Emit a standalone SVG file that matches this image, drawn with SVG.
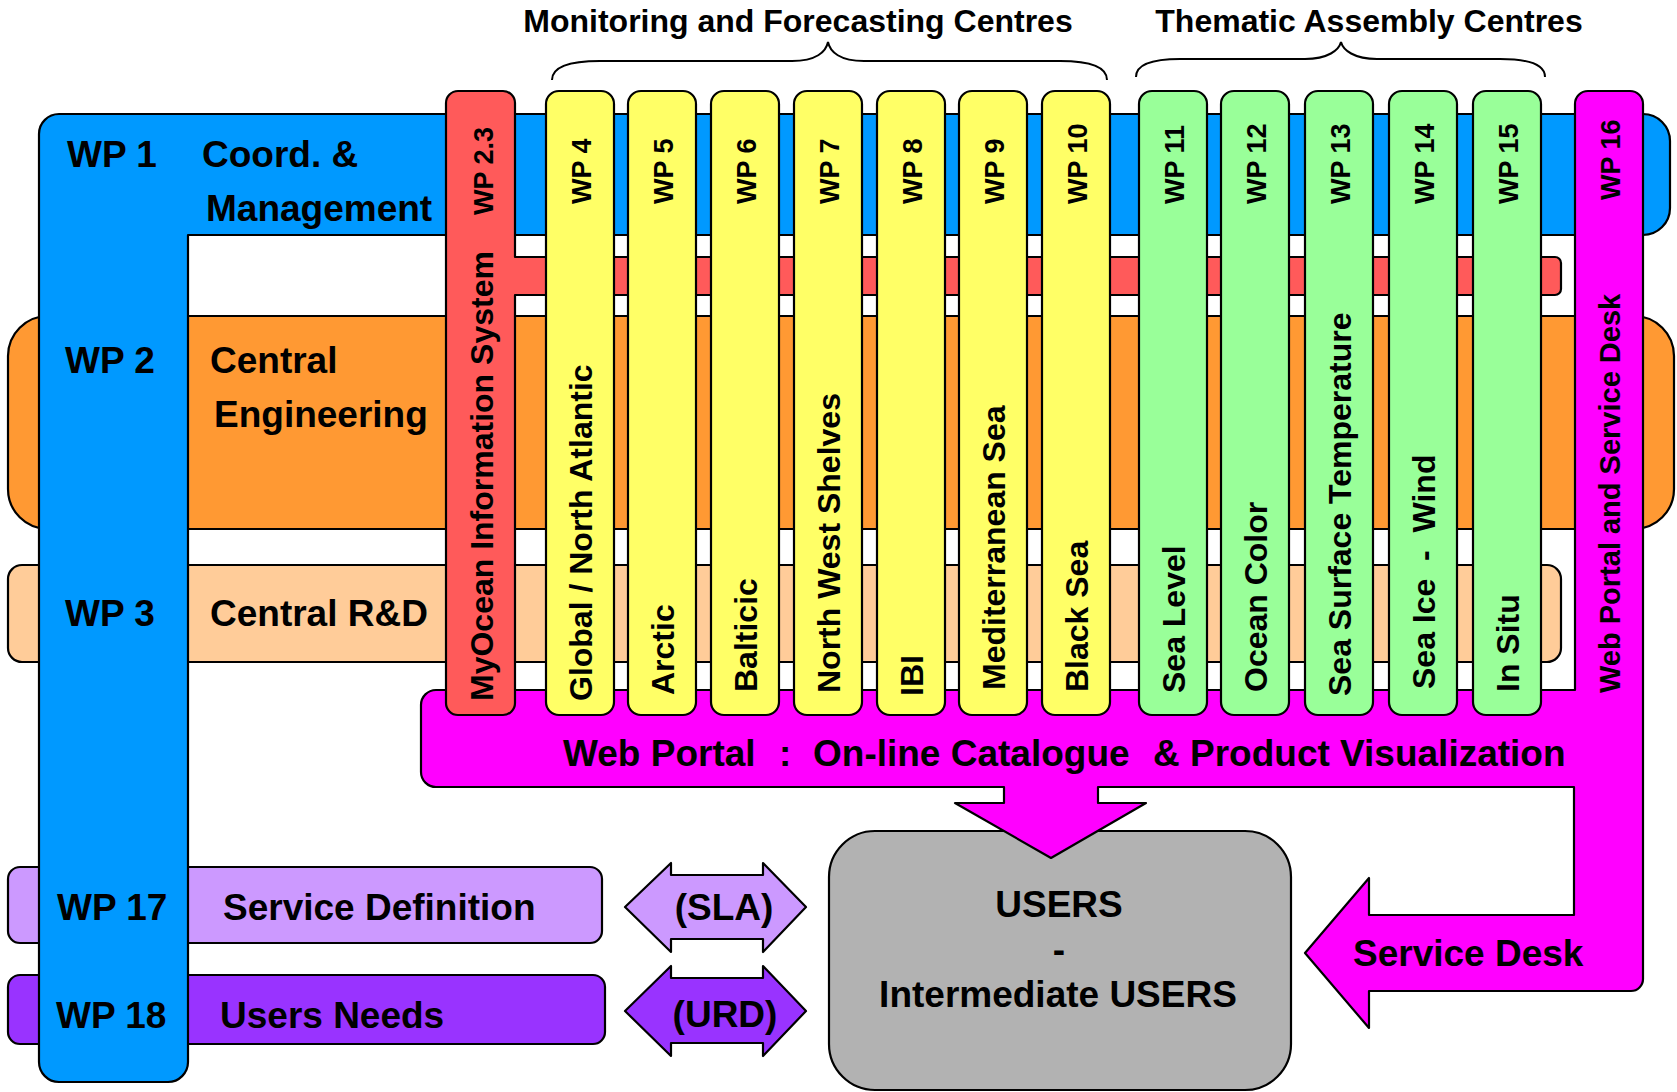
<svg xmlns="http://www.w3.org/2000/svg" width="1677" height="1092" viewBox="0 0 1677 1092">
  <style>
    .ln { stroke:#000; stroke-width:2.2; stroke-linejoin:round; }
    .br { fill:none; stroke:#000; stroke-width:2; }
    .t { font-family:"Liberation Sans", Arial, sans-serif; font-weight:bold; fill:#000; }
    .h { font-size:32px; text-anchor:middle; }
    .big { font-size:37px; }
    .mid { text-anchor:middle; }
    .wp { font-size:27px; }
    .lg { font-size:32px; }
    .blue { fill:#0099FF; }
    .orange { fill:#FF9933; }
    .peach { fill:#FFCC99; }
    .red { fill:#FF5A5A; }
    .yellow { fill:#FFFF66; }
    .green { fill:#99FF99; }
    .magenta { fill:#FF00FF; }
    .gray { fill:#B2B2B2; }
    .lilac { fill:#CC99FF; }
    .purple { fill:#9933FF; }
  </style>
  <rect width="1677" height="1092" fill="#FFFFFF"/>

  <!-- group titles and braces -->
  <g id="titles">
    <text class="t h" x="798" y="32">Monitoring and Forecasting Centres</text>
    <text class="t h" x="1369" y="32">Thematic Assembly Centres</text>
    <path class="br" d="M552,80 C552,67 570,61 600,61 H792 C816,61 826,52 828,42 C830,52 840,61 864,61 H1060 C1090,61 1107,67 1107,80"/>
    <path class="br" d="M1136,77 C1136,64 1152,59 1180,59 H1305 C1328,59 1339,50 1341,42 C1343,50 1354,59 1377,59 H1500 C1528,59 1545,64 1545,77"/>
  </g>

  <!-- horizontal bands -->
  <g id="wp2">
    <rect class="orange ln" x="8" y="316" width="1666" height="213" rx="40"/>
  </g>
  <g id="wp3">
    <rect class="peach ln" x="8" y="565" width="1553" height="97" rx="14"/>
  </g>
  <g id="wp17">
    <rect class="lilac ln" x="8" y="867" width="594" height="76" rx="12"/>
  </g>
  <g id="wp18">
    <rect class="purple ln" x="8" y="975" width="597" height="69" rx="12"/>
  </g>

  <!-- WP1: management band and column -->
  <g id="wp1">
    <path class="blue ln" d="M59,114 H1643 A27,27 0 0 1 1670,141 V208 A27,27 0 0 1 1643,235 H188 V1062 A20,20 0 0 1 168,1082 H59 A20,20 0 0 1 39,1062 V134 A20,20 0 0 1 59,114 Z"/>
  </g>

  <!-- users box -->
  <g id="users">
    <rect class="gray ln" x="829" y="831" width="462" height="259" rx="46"/>
    <text class="t big mid" x="1059" y="917">USERS</text>
    <text class="t big mid" x="1059" y="962">-</text>
    <text class="t big mid" x="1058" y="1007">Intermediate USERS</text>
  </g>

  <!-- WP16: web portal, service desk and arrow to users -->
  <g id="wp16">
    <path class="magenta ln" d="M1588,91 H1630 A13,13 0 0 1 1643,104 V979 A12,12 0 0 1 1631,991 H1369 V1028 L1305,953 L1369,878 V915 H1574 V787 H1098 V803 H1146 L1051,858 L955,803 H1004 V787 H436 A15,15 0 0 1 421,772 V705 A15,15 0 0 1 436,690 H1575 V104 A13,13 0 0 1 1588,91 Z"/>
    <text class="t wp" transform="translate(1620,200) rotate(-90)">WP 16</text>
    <text class="t" style="font-size:29px" transform="translate(1620,693) rotate(-90)">Web Portal and Service Desk</text>
    <text class="t big" x="563" y="766">Web Portal</text>
    <text class="t big" x="779" y="766">:</text>
    <text class="t big" x="813" y="766">On-line Catalogue</text>
    <text class="t big" x="1153" y="766">&amp; Product Visualization</text>
    <text class="t big" x="1353" y="966">Service Desk</text>
  </g>

  <!-- WP2.3: information system column with its branch -->
  <g id="wp2-3">
    <path class="red ln" d="M458,91 H503 A12,12 0 0 1 515,103 V257 H1555 A6,6 0 0 1 1561,263 V289 A6,6 0 0 1 1555,295 H515 V703 A12,12 0 0 1 503,715 H458 A12,12 0 0 1 446,703 V103 A12,12 0 0 1 458,91 Z"/>
    <text class="t wp" transform="translate(493,215) rotate(-90)">WP 2.3</text>
    <text class="t lg" transform="translate(493,701) rotate(-90)">MyOcean Information System</text>
  </g>

  <!-- monitoring and forecasting centres -->
  <g id="wp4">
    <rect class="yellow ln" x="546" y="91" width="68" height="624" rx="13"/>
    <text class="t wp" transform="translate(591,204) rotate(-90)">WP 4</text>
    <text class="t lg" transform="translate(592,701) rotate(-90)">Global / North Atlantic</text>
  </g>
  <g id="wp5">
    <rect class="yellow ln" x="628" y="91" width="68" height="624" rx="13"/>
    <text class="t wp" transform="translate(673,204) rotate(-90)">WP 5</text>
    <text class="t lg" transform="translate(674,695) rotate(-90)">Arctic</text>
  </g>
  <g id="wp6">
    <rect class="yellow ln" x="711" y="91" width="68" height="624" rx="13"/>
    <text class="t wp" transform="translate(756,204) rotate(-90)">WP 6</text>
    <text class="t lg" transform="translate(757,692) rotate(-90)">Balticic</text>
  </g>
  <g id="wp7">
    <rect class="yellow ln" x="794" y="91" width="68" height="624" rx="13"/>
    <text class="t wp" transform="translate(839,204) rotate(-90)">WP 7</text>
    <text class="t lg" transform="translate(840,693) rotate(-90)">North West Shelves</text>
  </g>
  <g id="wp8">
    <rect class="yellow ln" x="877" y="91" width="68" height="624" rx="13"/>
    <text class="t wp" transform="translate(922,204) rotate(-90)">WP 8</text>
    <text class="t lg" transform="translate(923,696) rotate(-90)">IBI</text>
  </g>
  <g id="wp9">
    <rect class="yellow ln" x="959" y="91" width="68" height="624" rx="13"/>
    <text class="t wp" transform="translate(1004,204) rotate(-90)">WP 9</text>
    <text class="t lg" transform="translate(1005,690) rotate(-90)">Mediterranean Sea</text>
  </g>
  <g id="wp10">
    <rect class="yellow ln" x="1042" y="91" width="68" height="624" rx="13"/>
    <text class="t wp" transform="translate(1087,204) rotate(-90)">WP 10</text>
    <text class="t lg" transform="translate(1088,692) rotate(-90)">Black Sea</text>
  </g>

  <!-- thematic assembly centres -->
  <g id="wp11">
    <rect class="green ln" x="1139" y="91" width="68" height="624" rx="13"/>
    <text class="t wp" transform="translate(1184,204) rotate(-90)">WP 11</text>
    <text class="t lg" transform="translate(1185,693) rotate(-90)">Sea Level</text>
  </g>
  <g id="wp12">
    <rect class="green ln" x="1221" y="91" width="68" height="624" rx="13"/>
    <text class="t wp" transform="translate(1266,204) rotate(-90)">WP 12</text>
    <text class="t lg" transform="translate(1267,692) rotate(-90)">Ocean Color</text>
  </g>
  <g id="wp13">
    <rect class="green ln" x="1305" y="91" width="68" height="624" rx="13"/>
    <text class="t wp" transform="translate(1350,204) rotate(-90)">WP 13</text>
    <text class="t lg" transform="translate(1351,696) rotate(-90)">Sea Surface Temperature</text>
  </g>
  <g id="wp14">
    <rect class="green ln" x="1389" y="91" width="68" height="624" rx="13"/>
    <text class="t wp" transform="translate(1434,204) rotate(-90)">WP 14</text>
    <text class="t lg" transform="translate(1435,689) rotate(-90)" xml:space="preserve">Sea Ice  -  Wind</text>
  </g>
  <g id="wp15">
    <rect class="green ln" x="1473" y="91" width="68" height="624" rx="13"/>
    <text class="t wp" transform="translate(1518,204) rotate(-90)">WP 15</text>
    <text class="t lg" transform="translate(1519,692) rotate(-90)">In Situ</text>
  </g>

  <!-- band labels drawn over the management column -->
  <g id="labels">
    <text class="t big" x="67" y="167">WP 1</text>
    <text class="t big" x="202" y="167">Coord. &amp;</text>
    <text class="t big" x="206" y="221">Management</text>
    <text class="t big" x="65" y="373">WP 2</text>
    <text class="t big" x="210" y="373">Central</text>
    <text class="t big" x="214" y="427">Engineering</text>
    <text class="t big" x="65" y="626">WP 3</text>
    <text class="t big" x="210" y="626">Central R&amp;D</text>
    <text class="t big" x="57" y="920">WP 17</text>
    <text class="t big" x="223" y="920">Service Definition</text>
    <text class="t big" x="56" y="1028">WP 18</text>
    <text class="t big" x="220" y="1028">Users Needs</text>
  </g>

  <!-- exchanges with users -->
  <g id="connectors">
    <g id="sla">
      <path class="lilac ln" d="M625,907 L671,863 V875 H763 V863 L806,907 L763,952 V939 H671 V952 Z"/>
      <text class="t big mid" x="724" y="920">(SLA)</text>
    </g>
    <g id="urd">
      <path class="purple ln" d="M625,1011 L671,966 V978 H763 V966 L806,1011 L763,1056 V1043 H671 V1056 Z"/>
      <text class="t big mid" x="725" y="1027">(URD)</text>
    </g>
  </g>
</svg>
